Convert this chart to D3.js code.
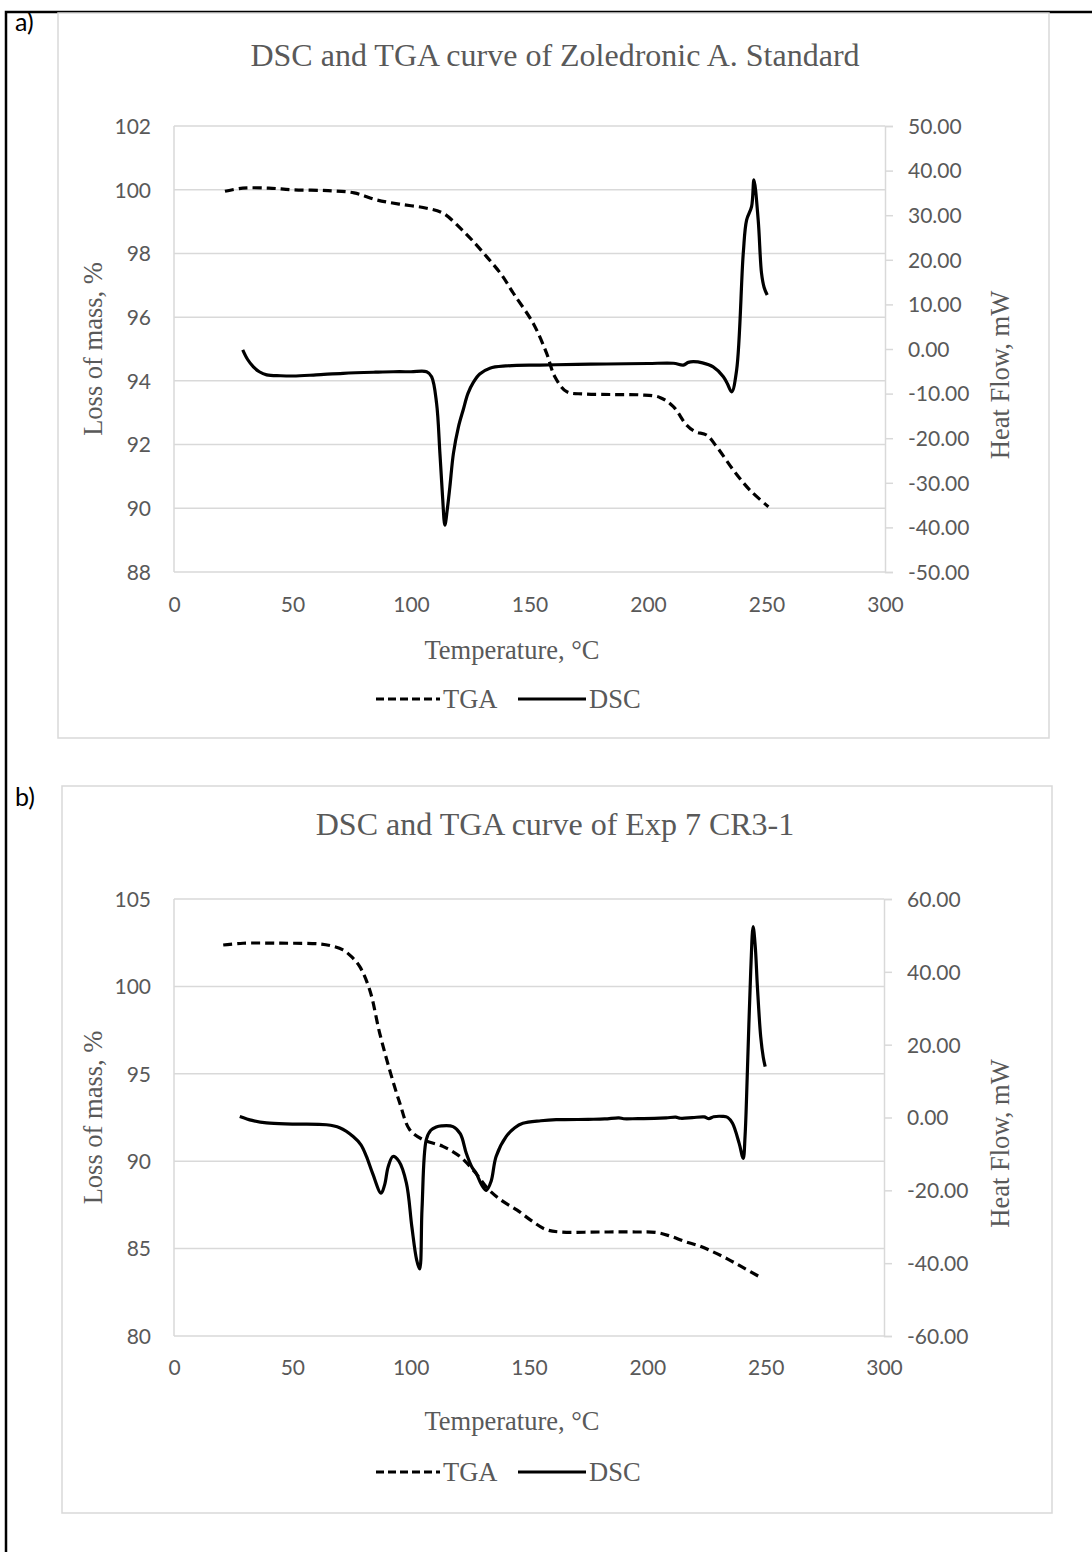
<!DOCTYPE html>
<html>
<head>
<meta charset="utf-8">
<script src="https://cdn.jsdelivr.net/npm/d3@7"></script>
<style>
  html, body { margin: 0; padding: 0; background: #fff; }
  svg { display: block; }
  .tick-lbl { font-family: Lato, "Open Sans", sans-serif; font-size: 21px; fill: #595959; }
  .serif { font-family: "Liberation Serif", "Times New Roman", serif; fill: #595959; }
  .panel-lbl { font-family: Lato, sans-serif; font-size: 25px; fill: #000; }
</style>
</head>
<body>
<svg id="chart" width="1092" height="1552"></svg>
<script>
// ---------- data ----------
const xTicks = [0, 50, 100, 150, 200, 250, 300];

// panel a) Zoledronic A. Standard
const tgaA_T = [21.5, 29, 40, 50, 65, 76, 85.5, 95, 106.6, 113.6, 120.7, 126, 131.9, 138, 143.2, 151.6, 157.2, 160.7, 165.7, 172.7, 185, 196.6, 205, 210.7, 216.3, 220, 224.7, 229, 236, 243, 250.8];
const tgaA   = [99.95, 100.05, 100.05, 100.0, 99.97, 99.9, 99.68, 99.55, 99.42, 99.26, 98.8, 98.4, 97.9, 97.35, 96.75, 95.8, 94.87, 94.13, 93.66, 93.59, 93.57, 93.56, 93.48, 93.19, 92.61, 92.4, 92.3, 91.93, 91.2, 90.57, 90.05];
const dscA_T = [29, 31, 33.5, 36, 39.1, 45, 50.3, 60, 71.4, 85, 92.5, 100, 106.6, 108.7, 110.8, 112.2, 113.3, 114.3, 115.3, 116.4, 117.9, 120, 122.1, 124, 126.3, 129, 133.3, 140, 154.4, 170, 182.6, 200, 210.7, 214.9, 217, 219.1, 223, 227.5, 231.8, 233.5, 235.3, 237.4, 240.2, 241.6, 243.7, 244.7, 246.5, 247.9, 249, 250.3];
const dscA   = [-0.2, -2.3, -4.0, -5.1, -5.8, -6.0, -6.05, -5.8, -5.45, -5.2, -5.1, -5.1, -5.1, -6.2, -12.2, -23.4, -33, -39.5, -36, -30.9, -23.4, -17.5, -13.5, -10, -7.5, -5.6, -4.3, -3.8, -3.6, -3.45, -3.36, -3.25, -3.2, -3.6, -3.0, -2.85, -3.1, -4.0, -6.2, -7.8, -9.6, -4.7, 21.5, 28.9, 31.9, 37.9, 28.9, 17.0, 13.8, 12.1];
const yLeftA  = [88, 90, 92, 94, 96, 98, 100, 102];
const yRightA = [-50, -40, -30, -20, -10, 0, 10, 20, 30, 40, 50];

// panel b) Exp 7 CR3-1
const tgaB_T = [20.8, 29.2, 45, 61.6, 67, 71.4, 75, 78.5, 82.7, 86.9, 91.1, 95.4, 99.6, 105.2, 113.6, 120.7, 127, 133, 139, 145, 151, 157, 163, 180, 195, 204, 210, 216, 222, 228, 234, 240, 247];
const tgaB   = [102.37, 102.47, 102.47, 102.43, 102.3, 102.09, 101.7, 101.13, 99.8, 97.33, 95.23, 93.33, 91.8, 91.23, 90.85, 90.28, 89.4, 88.37, 87.7, 87.2, 86.6, 86.1, 85.95, 85.95, 85.95, 85.92, 85.7, 85.4, 85.15, 84.8, 84.4, 83.95, 83.42];
const dscB_T = [27.8, 33, 39.1, 50, 64.4, 70, 75.7, 79, 81.3, 84, 87.5, 89, 90.5, 92.5, 95, 98.2, 100.5, 102.5, 103.8, 104.8, 106.6, 108.5, 110.8, 113, 117.9, 121, 123.5, 125.8, 127.7, 130, 132, 134, 136.1, 140.4, 144, 147.4, 155, 161.5, 165, 175, 182, 188, 190, 196, 203, 208, 212, 214, 219, 224, 226, 228, 231.8, 234, 236, 238.8, 240.5, 241.3, 242.3, 243.7, 244.7, 245.6, 246.5, 247.9, 249, 249.8];
const dscB   = [0.3, -0.8, -1.5, -1.8, -2.0, -2.8, -5.2, -7.5, -10.7, -15.5, -20.8, -18.5, -13.5, -10.7, -12, -18, -30, -39, -41.6, -25, -6.1, -3.5, -2.6, -2.3, -2.5, -4.5, -9.8, -13.5, -15.3, -18.5, -20.0, -17.5, -10.7, -5.2, -2.8, -1.6, -0.9, -0.6, -0.6, -0.5, -0.4, -0.1, -0.35, -0.3, -0.25, -0.1, 0.1, -0.2, -0.05, 0.15, -0.3, 0.2, 0.3, 0.0, -1.6, -7.1, -11.2, -5, 13.1, 40.5, 52.4, 47, 36, 22.2, 16.5, 14.0];
const yLeftB  = [80, 85, 90, 95, 100, 105];
const yRightB = [-60, -40, -20, 0, 20, 40, 60];

const legendNames = ['TGA', 'DSC'];

// ---------- layout ----------
const svg = d3.select('#chart');
svg.append('rect').attr('width', 1092).attr('height', 1552).attr('fill', '#fff');

// black page frame (top + left only)
svg.append('path')
  .attr('d', 'M6,1552 V12 H1092')
  .attr('fill', 'none').attr('stroke', '#000').attr('stroke-width', 2.5);

const panels = [
  {
    label: 'a)', labelY: 31,
    frame: [58, 13, 1049, 738],
    plot: { l: 174, r: 885, t: 126, b: 572 },
    title: 'DSC and TGA curve of Zoledronic A. Standard', titleY: 66,
    yLeft: yLeftA, yRight: yRightA,
    tga: tgaA_T.map((t, i) => [t, tgaA[i]]),
    dsc: dscA_T.map((t, i) => [t, dscA[i]]),
    tickY: 605, xTitleY: 650, legendY: 699
  },
  {
    label: 'b)', labelY: 806,
    frame: [62, 786, 1052, 1513],
    plot: { l: 174, r: 884, t: 899, b: 1336 },
    title: 'DSC and TGA curve of Exp 7 CR3-1', titleY: 835,
    yLeft: yLeftB, yRight: yRightB,
    tga: tgaB_T.map((t, i) => [t, tgaB[i]]),
    dsc: dscB_T.map((t, i) => [t, dscB[i]]),
    tickY: 1368, xTitleY: 1421, legendY: 1472
  }
];

// Excel-style hyphen instead of the unicode minus d3.format gives
const fmtRight = v => d3.format('.2f')(v).replace('\u2212', '-');

panels.forEach(drawPanel);

function drawPanel(p) {
  const g = svg.append('g');
  const [fx0, fy0, fx1, fy1] = p.frame;
  const { l, r, t, b } = p.plot;

  // chart-area border
  g.append('rect')
    .attr('x', fx0).attr('y', fy0).attr('width', fx1 - fx0).attr('height', fy1 - fy0)
    .attr('fill', '#fff').attr('stroke', '#d9d9d9').attr('stroke-width', 1.5);

  svg.append('text').attr('class', 'panel-lbl')
    .attr('x', 15).attr('y', p.labelY).text(p.label);

  const x = d3.scaleLinear().domain([0, 300]).range([l, r]);
  const yL = d3.scaleLinear().domain(d3.extent(p.yLeft)).range([b, t]);
  const yR = d3.scaleLinear().domain(d3.extent(p.yRight)).range([b, t]);

  // horizontal gridlines from the left axis
  g.append('g').selectAll('line').data(p.yLeft).join('line')
    .attr('x1', l).attr('x2', r)
    .attr('y1', d => yL(d)).attr('y2', d => yL(d))
    .attr('stroke', '#d9d9d9').attr('stroke-width', 1.5);

  // left axis line
  g.append('line').attr('x1', l).attr('x2', l).attr('y1', t).attr('y2', b)
    .attr('stroke', '#d9d9d9').attr('stroke-width', 1.5);

  // right axis with outward ticks
  const rightAxis = d3.axisRight(yR).tickValues(p.yRight).tickSize(8).tickPadding(15)
    .tickFormat(fmtRight);
  const ra = g.append('g').attr('transform', `translate(${r},0)`).call(rightAxis);
  ra.select('.domain').attr('stroke', '#d9d9d9').attr('stroke-width', 1.5);
  ra.selectAll('.tick line').attr('stroke', '#d9d9d9').attr('stroke-width', 1.5);
  ra.selectAll('.tick text').attr('class', 'tick-lbl').attr('fill', null).attr('dy', '0.35em');
  ra.attr('font-size', null).attr('font-family', null);

  // left tick labels
  const la = d3.axisLeft(yL).tickValues(p.yLeft).tickSize(0).tickPadding(23);
  const lg = g.append('g').attr('transform', `translate(${l},0)`).call(la);
  lg.select('.domain').remove();
  lg.attr('font-size', null).attr('font-family', null);
  lg.selectAll('.tick text').attr('class', 'tick-lbl').attr('fill', null).attr('dy', '0.35em');

  // x tick labels
  const xa = d3.axisBottom(x).tickValues(xTicks).tickSize(0).tickPadding(0);
  const xg = g.append('g').attr('transform', `translate(0,${p.tickY})`).call(xa);
  xg.select('.domain').remove();
  xg.attr('font-size', null).attr('font-family', null);
  xg.selectAll('.tick text').attr('class', 'tick-lbl').attr('fill', null).attr('dy', '0.35em');

  // titles
  g.append('text').attr('class', 'serif')
    .attr('x', 555).attr('y', p.titleY).attr('text-anchor', 'middle')
    .attr('font-size', 32).text(p.title);
  g.append('text').attr('class', 'serif')
    .attr('x', 512).attr('y', p.xTitleY).attr('dy', '0.35em').attr('text-anchor', 'middle')
    .attr('font-size', 26.5).text('Temperature, °C');
  g.append('text').attr('class', 'serif')
    .attr('transform', `translate(93,${(t + b) / 2}) rotate(-90)`)
    .attr('dy', '0.35em').attr('text-anchor', 'middle')
    .attr('font-size', 26.5).text('Loss of mass, %');
  g.append('text').attr('class', 'serif')
    .attr('transform', `translate(1000,${(t + b) / 2 + 26}) rotate(-90)`)
    .attr('dy', '0.35em').attr('text-anchor', 'middle')
    .attr('font-size', 26.5).text('Heat Flow, mW');

  // curves (smoothed like Excel's smoothed line)
  const curve = d3.curveCatmullRom.alpha(0.5);
  const lineL = d3.line().x(d => x(d[0])).y(d => yL(d[1])).curve(curve);
  const lineR = d3.line().x(d => x(d[0])).y(d => yR(d[1])).curve(curve);
  g.append('path').attr('d', lineL(p.tga))
    .attr('fill', 'none').attr('stroke', '#000').attr('stroke-width', 3.2)
    .attr('stroke-dasharray', '9,5');
  g.append('path').attr('d', lineR(p.dsc))
    .attr('fill', 'none').attr('stroke', '#000').attr('stroke-width', 3.2)
    .attr('stroke-linejoin', 'round');

  // legend
  const lx = 376, ly = p.legendY;
  const leg = g.append('g');
  leg.append('line').attr('x1', lx).attr('x2', lx + 64).attr('y1', ly).attr('y2', ly)
    .attr('stroke', '#000').attr('stroke-width', 3.2).attr('stroke-dasharray', '8,4');
  leg.append('text').attr('class', 'serif').attr('font-size', 26.5)
    .attr('x', lx + 67).attr('y', ly).attr('dy', '0.35em').text(legendNames[0]);
  leg.append('line').attr('x1', lx + 142).attr('x2', lx + 210).attr('y1', ly).attr('y2', ly)
    .attr('stroke', '#000').attr('stroke-width', 3.2);
  leg.append('text').attr('class', 'serif').attr('font-size', 26.5)
    .attr('x', lx + 213).attr('y', ly).attr('dy', '0.35em').text(legendNames[1]);
}
</script>
</body>
</html>
